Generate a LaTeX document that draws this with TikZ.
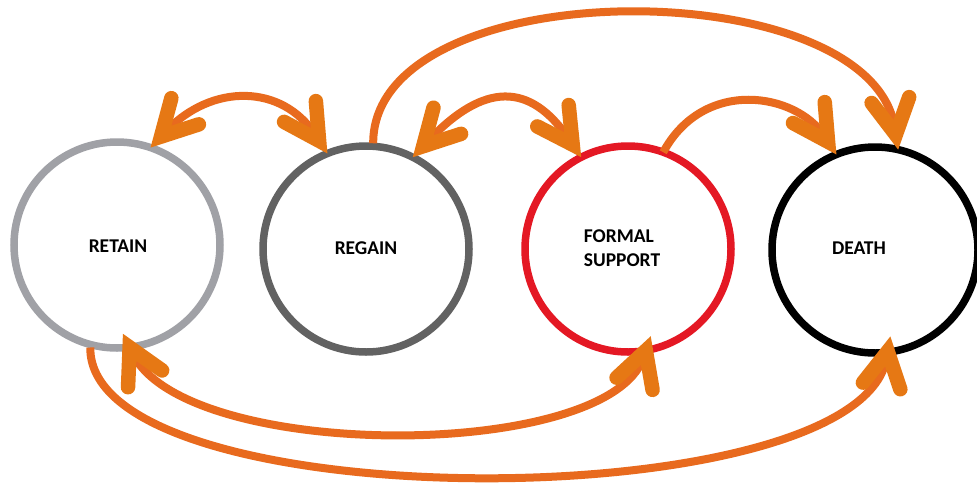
\documentclass[tikz,border=0pt]{standalone}
\usepackage{fontspec}
\setmainfont{Carlito}
\usetikzlibrary{arrows.meta}
\definecolor{lineorange}{RGB}{232,106,30}
\definecolor{headorange}{RGB}{230,120,20}
\definecolor{retaingrey}{RGB}{160,161,166}
\definecolor{regaingrey}{RGB}{98,98,98}
\definecolor{formalred}{RGB}{228,24,36}
\tikzset{
  hd/.tip={Straight Barb[length=35pt,width=38pt,line width=14.5pt,line cap=round,line join=miter,color=headorange]},
  state/.style={circle, line width=7.5pt, minimum size=206pt, inner sep=0pt, outer sep=0pt},
  lbl/.style={font=\fontsize{19.5}{24}\selectfont\bfseries, align=left, inner sep=0pt},
  conn/.style={line width=8pt, draw=lineorange}
}
\begin{document}
\begin{tikzpicture}[x=1pt,y=-1pt]
\useasboundingbox (0,0) rectangle (977,488);
\clip (0,0) rectangle (977,488);
\fill[white] (0,0) rectangle (977,488);
% circles
\node[state, draw=retaingrey] (retain) at (117,245) {};
\node[state, draw=regaingrey] (regain) at (366,249) {};
\node[state, draw=formalred] (formal) at (628,249) {};
\node[state, draw=black] (death) at (875,250) {};
% labels
\node[lbl] (retaintext) at (118,246) {RETAIN};
\node[lbl] (regaintext) at (366,248) {REGAIN};
\node[lbl] (formaltext) at (622,248) {FORMAL\\SUPPORT};
\node[lbl] (deathtext) at (859,248) {DEATH};
% top connectors
\draw[conn, {hd}-{hd}] (retain.71) .. controls (212,83) and (282,84) .. (regain.112);
\draw[conn, {hd}-{hd}] (regain.63) .. controls (484,82) and (530,82) .. (formal.117);
\draw[conn, -{hd}] (formal.70) .. controls (704,77) and (796,93) .. (death.112);
\draw[conn, -{hd}, shorten <=3pt] (regain.86) .. controls (373,-30) and (870,-30) .. (death.77);
% bottom connectors
\draw[conn, {hd}-{hd}, shorten <=-15pt, shorten >=-15pt] (retain.-83) .. controls (186,462) and (608,462) .. (formal.-80);
\draw[conn, -{hd}, shorten <=3pt, shorten >=-16pt] (retain.-105) .. controls (88,520) and (858,520) .. (death.-83);
\end{tikzpicture}
\end{document}
